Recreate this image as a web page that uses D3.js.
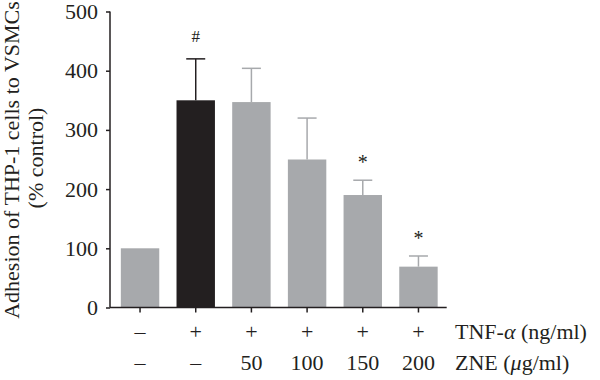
<!DOCTYPE html>
<html><head><meta charset="utf-8">
<script src="https://cdn.jsdelivr.net/npm/d3@7"></script>
<style>body{margin:0;background:#fff}svg{display:block}</style>
</head><body>
<svg id="c" width="600" height="380"></svg>
<script>
const groups = ["g1","g2","g3","g4","g5","g6"];
const values = [100, 350, 347, 250, 190, 69];
const errors = [0, 70, 57, 70, 25, 18];
const tnfLabels = ["\u2013","+","+","+","+","+"];
const zneLabels = ["\u2013","\u2013","50","100","150","200"];
const marks = ["", "#", "", "", "*", "*"];
const barColors = ["#a7a9ac","#231f20","#a7a9ac","#a7a9ac","#a7a9ac","#a7a9ac"];
const yTicks = [0,100,200,300,400,500];

const svg = d3.select("#c");
const font = "'Liberation Serif', 'Times New Roman', serif";
const ink = "#231f20";
const fs = 22;
const x = d3.scaleBand().domain(groups).range([112.2, 446.3]).paddingInner(0.31).paddingOuter(0.155);
const y = d3.scaleLinear().domain([0,500]).range([307.5, 11.5]);

// bars
svg.selectAll("rect.bar").data(groups).join("rect")
  .attr("x", d => x(d)).attr("width", x.bandwidth())
  .attr("y", (d,i) => y(values[i])).attr("height", (d,i) => y(0) - y(values[i]))
  .attr("fill", (d,i) => barColors[i]);

// error bars
const eb = svg.selectAll("g.err").data(groups.filter((d,i)=>errors[i]>0)).join("g");
eb.each(function(d){
  const i = groups.indexOf(d);
  const cx = x(d) + x.bandwidth()/2;
  const g = d3.select(this);
  const col = barColors[i];
  g.append("line").attr("x1",cx).attr("x2",cx).attr("y1",y(values[i])).attr("y2",y(values[i]+errors[i]))
    .attr("stroke",col).attr("stroke-width",1.5);
  g.append("line").attr("x1",cx-9.5).attr("x2",cx+9.5).attr("y1",y(values[i]+errors[i])).attr("y2",y(values[i]+errors[i]))
    .attr("stroke",col).attr("stroke-width",1.5);
});

// significance marks
svg.selectAll("text.mark").data(groups).join("text")
  .attr("x", d => x(d) + x.bandwidth()/2)
  .attr("y", (d,i) => y(values[i]+errors[i]) - (marks[i]==="#" ? 17 : 11))
  .attr("text-anchor","middle").attr("font-family",font).attr("font-size",(d,i)=>marks[i]==="#"?17:20)
  .attr("fill",ink).text((d,i)=>marks[i]);

// y axis
const ya = svg.append("g").attr("transform","translate(110,0)")
  .call(d3.axisLeft(y).tickValues(yTicks).tickSize(4).tickPadding(8));
ya.select(".domain").attr("stroke",ink).attr("stroke-width",1.5).attr("d","M0,"+y(500)+"V"+y(0));
ya.selectAll(".tick line").attr("stroke",ink).attr("stroke-width",1.5);
ya.selectAll(".tick text").attr("font-family",font).attr("font-size",fs).attr("fill",ink);

// x axis
const xa = svg.append("g").attr("transform","translate(0,"+y(0)+")")
  .call(d3.axisBottom(x).tickSize(5).tickFormat(""));
xa.select(".domain").attr("stroke",ink).attr("stroke-width",1.5).attr("d","M110,0H446.7");
xa.selectAll(".tick line").attr("stroke",ink).attr("stroke-width",1.5);

// row labels
svg.selectAll("text.tnf").data(groups).join("text")
  .attr("x", d => x(d)+x.bandwidth()/2).attr("y", 339)
  .attr("text-anchor","middle").attr("font-family",font).attr("font-size",fs).attr("fill",ink)
  .text((d,i)=>tnfLabels[i]);
svg.selectAll("text.zne").data(groups).join("text")
  .attr("x", d => x(d)+x.bandwidth()/2).attr("y", 370)
  .attr("text-anchor","middle").attr("font-family",font).attr("font-size",fs).attr("fill",ink)
  .text((d,i)=>zneLabels[i]);

const t1 = svg.append("text").attr("x",455).attr("y",339).attr("font-family",font).attr("font-size",fs).attr("fill",ink);
t1.append("tspan").text("TNF-");
t1.append("tspan").attr("font-style","italic").text("\u03b1");
t1.append("tspan").text(" (ng/ml)");
const t2 = svg.append("text").attr("x",455).attr("y",370).attr("font-family",font).attr("font-size",fs).attr("fill",ink);
t2.append("tspan").text("ZNE (");
t2.append("tspan").attr("font-style","italic").text("\u03bc");
t2.append("tspan").text("g/ml)");

// y title
svg.append("text").attr("transform","translate(19,160) rotate(-90)")
  .attr("text-anchor","middle").attr("font-family",font).attr("font-size",fs).attr("fill",ink)
  .text("Adhesion of THP-1 cells to VSMCs");
svg.append("text").attr("transform","translate(43,158) rotate(-90)")
  .attr("text-anchor","middle").attr("font-family",font).attr("font-size",fs).attr("fill",ink)
  .text("(% control)");
</script>
</body></html>
